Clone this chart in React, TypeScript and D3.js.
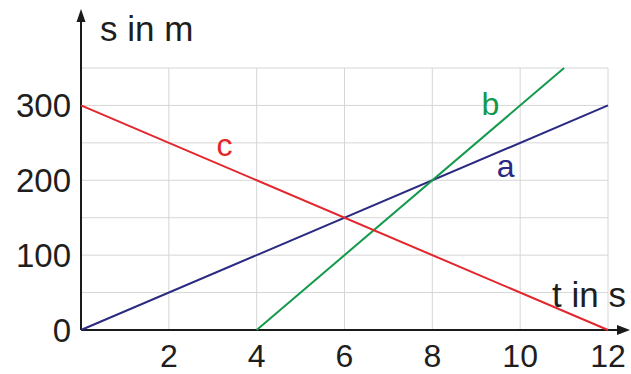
import React from "react";
import * as d3 from "d3";

const W = 631;
const H = 374;

// data
const tDomain = [0, 12];
const sDomain = [0, 350];
const xTicks = [2, 4, 6, 8, 10, 12];
const yTicks = [0, 100, 200, 300];
const gridS = [0, 50, 100, 150, 200, 250, 300, 350];
const gridT = [2, 4, 6, 8, 10, 12];

const seriesNames = ["a", "b", "c"];
const seriesColors = ["#2b2a82", "#13994a", "#e3262b"];
// points [t, s]
const seriesA = [[0, 0], [12, 300]];
const seriesB = [[4, 0], [11, 350]];
const seriesC = [[0, 300], [12, 0]];
const seriesPoints = [seriesA, seriesB, seriesC];
// label anchor positions in data units
const labelPos = [[9.67, 204], [9.32, 287], [3.27, 233]];

const xLabel = "t in s";
const yLabel = "s in m";

export default function App() {
  const x = d3.scaleLinear().domain(tDomain).range([81, 608]);
  const y = d3.scaleLinear().domain(sDomain).range([330, 68]);
  const line = d3
    .line<number[]>()
    .x((d) => x(d[0]))
    .y((d) => y(d[1]));
  const font = "'Liberation Sans', Arial, sans-serif";
  const x0 = x(0);
  const y0 = y(0);
  return (
    <svg
      width={W}
      height={H}
      style={{ position: "absolute", left: 0, top: 0, background: "#fff" }}
      fontFamily={font}
    >
      <rect width={W} height={H} fill="#fff" />
      {gridS.map((s) => (
        <line key={"gs" + s} x1={x(0)} x2={x(12)} y1={y(s)} y2={y(s)} stroke="#d6d6d6" strokeWidth={1} />
      ))}
      {gridT.map((t) => (
        <line key={"gt" + t} x1={x(t)} x2={x(t)} y1={y(0)} y2={y(350)} stroke="#d6d6d6" strokeWidth={1} />
      ))}
      {/* axes */}
      <line x1={x0} x2={x0} y1={y0} y2={20} stroke="#1a1a1a" strokeWidth={2} />
      <path d={`M${x0},9 L${x0 - 4.5},22 L${x0 + 4.5},22 Z`} fill="#1a1a1a" />
      <line x1={x0} x2={619} y1={y0} y2={y0} stroke="#1a1a1a" strokeWidth={2} />
      <path d={`M630,${y0} L617,${y0 - 5} L617,${y0 + 5} Z`} fill="#1a1a1a" />
      {seriesPoints.map((pts, i) => (
        <path key={seriesNames[i]} d={line(pts) || ""} fill="none" stroke={seriesColors[i]} strokeWidth={2} />
      ))}
      {yTicks.map((v) => (
        <text key={"yt" + v} x={71} y={y(v) + 12} textAnchor="end" fontSize={33} fill="#1e1e1e">
          {v}
        </text>
      ))}
      {xTicks.map((v) => (
        <text key={"xt" + v} x={x(v)} y={367} textAnchor="middle" fontSize={32} fill="#1e1e1e">
          {v}
        </text>
      ))}
      {seriesNames.map((n, i) => (
        <text
          key={"lab" + n}
          x={x(labelPos[i][0])}
          y={y(labelPos[i][1])}
          textAnchor="middle"
          fontSize={32}
          fill={seriesColors[i]}
        >
          {n}
        </text>
      ))}
      <text x={100} y={40.7} fontSize={35} fill="#1e1e1e">
        {yLabel}
      </text>
      <text x={626} y={306.7} textAnchor="end" fontSize={35} fill="#1e1e1e">
        {xLabel}
      </text>
    </svg>
  );
}
